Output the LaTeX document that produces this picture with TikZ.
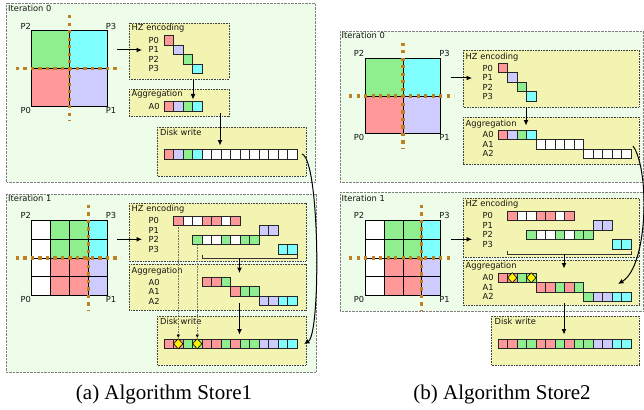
\documentclass[tikz,border=0pt]{standalone}
\usepackage{fontspec}
\setmainfont{Liberation Serif}
\newfontfamily\djv{DejaVu Sans}
\usetikzlibrary{arrows.meta}
\definecolor{pr}{HTML}{FF9999}
\definecolor{pl}{HTML}{CECBFF}
\definecolor{pg}{HTML}{8FEF8F}
\definecolor{pc}{HTML}{80FFFF}
\definecolor{pw}{HTML}{FFFFFF}
\definecolor{dbrown}{HTML}{C07F22}
\definecolor{ogreen}{HTML}{EEFCEA}
\definecolor{obord}{HTML}{808080}
\definecolor{yfill}{HTML}{F4F4B2}
\definecolor{ybord}{HTML}{404040}
\tikzset{
 outer/.style={fill=ogreen, draw=obord, line width=0.7pt, dash pattern=on 0.7pt off 0.7pt},
 ybox/.style={fill=yfill, draw=ybord, line width=0.8pt, dash pattern=on 0.8pt off 0.8pt},
 cellb/.style={draw=black!85, line width=0.7pt},
 gridl/.style={draw=black, line width=0.9pt},
 bdots/.style={draw=dbrown, line width=3.2pt, dash pattern=on 3.2pt off 4.3pt},
 lbl/.style={font=\djv\fontsize{8.3}{9}\selectfont, text=black!92, inner sep=0pt},
 rl/.style={lbl, anchor=west},
 bl/.style={lbl, anchor=base west},
 arr/.style={line width=1pt, -{Latex[length=5.5pt,width=5pt]}},
 darr/.style={draw=black!55, line width=0.6pt, dash pattern=on 0.7pt off 0.9pt, -{Latex[length=3.5pt,width=3.5pt,black]}},
 brk/.style={draw=black!80, line width=0.8pt},
 captxt/.style={font=\fontsize{21}{24}\selectfont, inner sep=0pt, anchor=base},
}
\newcommand\crow[3]{\foreach \cC [count=\cI from 0] in {#3}{\draw[cellb,fill=\cC] ({#1+\cI*9.5},#2) rectangle ++(9.5,9.5);}}
\newcommand\dmd[2]{\draw[fill=yellow,draw=black,line width=0.6pt] ({#1+4.75},{#2-0.3}) -- ++(4.6,5.05) -- ++(-4.6,5.05) -- ++(-4.6,-5.05) -- cycle;}
\newcommand\gridA[3]{%
\begin{scope}[shift={(#1,#2)}]
\fill[pg] (0,0) rectangle (37.75,37.75);
\fill[pc] (37.75,0) rectangle (75.5,37.75);
\fill[pr] (0,37.75) rectangle (37.75,75.5);
\fill[pl] (37.75,37.75) rectangle (75.5,75.5);
\draw[gridl] (0,0) rectangle (75.5,75.5) (37.75,0) -- (37.75,75.5) (0,37.75) -- (75.5,37.75);
\draw[bdots] (37.75,-15.5) -- (37.75,90);
\draw[bdots] (-16,37.75) -- (89,37.75);
\node[lbl] (#3p2) at (-6.1,-4.7) {P2};
\node[lbl] (#3p3) at (79.3,-4.7) {P3};
\node[lbl] (#3p0) at (-6.1,79.6) {P0};
\node[lbl] (#3p1) at (79.3,79.6) {P1};
\end{scope}}
\newcommand\gridB[3]{%
\begin{scope}[shift={(#1,#2)}]
\fill[pw] (0,0) rectangle (18.875,75.5);
\fill[pg] (18.875,0) rectangle (56.625,37.75);
\fill[pc] (56.625,0) rectangle (75.5,37.75);
\fill[pr] (18.875,37.75) rectangle (56.625,75.5);
\fill[pl] (56.625,37.75) rectangle (75.5,75.5);
\foreach \k in {0,1,2,3,4}{\draw[gridl] ({\k*18.875},0) -- ++(0,75.5); \draw[gridl] (0,{\k*18.875}) -- ++(75.5,0);}
\draw[bdots] (56.625,-15.5) -- (56.625,91);
\draw[bdots] (-16,37.75) -- (89,37.75);
\node[lbl] (#3p2) at (-6.1,-4.7) {P2};
\node[lbl] (#3p3) at (79.3,-4.7) {P3};
\node[lbl] (#3p0) at (-6.1,79.6) {P0};
\node[lbl] (#3p1) at (79.3,79.6) {P1};
\end{scope}}
\begin{document}
\begin{tikzpicture}[x=1pt,y=-1pt]
\useasboundingbox (0,0) rectangle (644,409);
% ================= LEFT: Store1 =================
% ---- Iteration 0
\draw[outer] (6.5,3.5) rectangle (315.5,182);
\node[bl] (l0t) at (8,11.7) {Iteration 0};
\draw[ybox] (129,23) rectangle (229,79);
\draw[ybox] (129,89) rectangle (229,116);
\draw[ybox] (157,127) rectangle (306,176);
\gridA{31.8}{30.7}{l0}
\node[bl] (l0hz) at (131.5,30.5) {HZ encoding};
\node[rl] (l0r0) at (148.5,40.25) {P0};
\node[rl] (l0r1) at (148.5,49.75) {P1};
\node[rl] (l0r2) at (148.5,59.25) {P2};
\node[rl] (l0r3) at (148.5,68.75) {P3};
\crow{164}{35.5}{pr}
\crow{173.5}{45}{pl}
\crow{183}{54.5}{pg}
\crow{192.5}{64}{pc}
\node[bl] (l0ag) at (131.5,96.3) {Aggregation};
\node[rl] (l0a0) at (148.5,106.25) {A0};
\crow{164}{101.5}{pr,pl,pg,pc}
\node[bl] (l0dw) at (160,135) {Disk write};
\crow{164}{149.5}{pr,pl,pg,pc,pw,pw,pw,pw,pw,pw,pw,pw,pw,pw}
\coordinate (l0g) at (117,50);
\coordinate (l0h) at (142,50);
\coordinate (l0hb) at (193,79);
\coordinate (l0at) at (193,99.5);
\coordinate (l0ab) at (220,113);
\coordinate (l0dt) at (220,145.5);
\coordinate (l0de) at (302,154);
\draw[arr] (l0g) -- (l0h);
\draw[arr] (l0hb) -- (l0at);
\draw[arr] (l0ab) -- (l0dt);
% ---- Iteration 1
\draw[outer] (6.5,194) rectangle (316,372.5);
\node[bl] (l1t) at (8,201.7) {Iteration 1};
\draw[ybox] (129,203) rectangle (306,261);
\draw[ybox] (129,264) rectangle (306,310);
\draw[ybox] (157,316) rectangle (306,365);
\gridB{31.8}{220.3}{l1}
\node[bl] (l1hz) at (131.5,211.5) {HZ encoding};
\node[rl] (l1r0) at (148.5,220.75) {P0};
\node[rl] (l1r1) at (148.5,230.25) {P1};
\node[rl] (l1r2) at (148.5,239.75) {P2};
\node[rl] (l1r3) at (148.5,249.25) {P3};
\crow{173.5}{216}{pr,pw,pw,pr,pr,pw,pr}
\crow{259}{225.5}{pl,pl}
\crow{192.5}{235}{pg,pw,pw,pg,pw,pg,pg}
\crow{278}{244.5}{pc,pc}
\draw[brk] (202,254.5) -- (202,258) -- (297,258) -- (297,254.5);
\node[bl] (l1ag) at (131.5,273) {Aggregation};
\node[rl] (l1a0) at (148.5,282.05) {A0};
\node[rl] (l1a1) at (148.5,291.55) {A1};
\node[rl] (l1a2) at (148.5,301.05) {A2};
\crow{202}{277.3}{pr,pr,pg}
\crow{230.5}{286.8}{pr,pg,pg}
\crow{259}{296.3}{pl,pl,pc,pc}
\node[bl] (l1dw) at (160,324.3) {Disk write};
\crow{164}{339}{pr,pr,pg,pg,pr,pr,pg,pr,pg,pg,pl,pl,pc,pc}
\dmd{173.5}{339}
\dmd{192.5}{339}
\coordinate (l1g) at (117,239.3);
\coordinate (l1h) at (142,239.3);
\coordinate (l1bm) at (239.5,258);
\coordinate (l1at) at (239.5,273);
\coordinate (l1ab) at (239.5,303);
\coordinate (l1dt) at (239.5,334.5);
\coordinate (l1p0) at (178.25,226.5);
\coordinate (l1p0d) at (178.25,338);
\coordinate (l1p2) at (197.25,245);
\coordinate (l1p2d) at (197.25,338);
\coordinate (l1de) at (304,344);
\draw[arr] (l1g) -- (l1h);
\draw[arr] (l1bm) -- (l1at);
\draw[arr] (l1ab) -- (l1dt);
\draw[darr] (l1p0) -- (l1p0d);
\draw[darr] (l1p2) -- (l1p2d);
\draw[arr] (l0de) .. controls (320,160) and (321,334) .. (l1de);
% ================= RIGHT: Store2 =================
% ---- Iteration 0
\draw[outer] (340,31) rectangle (643,182);
\node[bl] (r0t) at (341.5,38.3) {Iteration 0};
\draw[ybox] (463,50) rectangle (639,107);
\draw[ybox] (463,117) rectangle (639,164);
\gridA{365.2}{58.3}{r0}
\node[bl] (r0hz) at (465.5,60) {HZ encoding};
\node[rl] (r0r0) at (482.5,68.05) {P0};
\node[rl] (r0r1) at (482.5,77.55) {P1};
\node[rl] (r0r2) at (482.5,87.05) {P2};
\node[rl] (r0r3) at (482.5,96.55) {P3};
\crow{498}{63.3}{pr}
\crow{507.5}{72.8}{pl}
\crow{517}{82.3}{pg}
\crow{526.5}{91.8}{pc}
\node[bl] (r0ag) at (465.5,126.5) {Aggregation};
\node[rl] (r0a0) at (482.5,134.75) {A0};
\node[rl] (r0a1) at (482.5,144.25) {A1};
\node[rl] (r0a2) at (482.5,153.75) {A2};
\crow{498}{130}{pr,pl,pg,pc}
\crow{536}{139.5}{pw,pw,pw,pw,pw}
\crow{583.5}{149}{pw,pw,pw,pw,pw}
\coordinate (r0g) at (451,78);
\coordinate (r0h) at (472,78);
\coordinate (r0hb) at (526,107);
\coordinate (r0at) at (526,125.5);
\coordinate (r0ae) at (633,146);
\draw[arr] (r0g) -- (r0h);
\draw[arr] (r0hb) -- (r0at);
% ---- Iteration 1
\draw[outer] (340,192.3) rectangle (643,311);
\node[bl] (r1t) at (341.5,201) {Iteration 1};
\draw[ybox] (463,198.3) rectangle (639,257.3);
\draw[ybox] (463,260) rectangle (639,305);
\draw[ybox] (491,316) rectangle (639,365);
\gridB{365.2}{220.3}{r1}
\node[bl] (r1hz) at (465.5,206) {HZ encoding};
\node[rl] (r1r0) at (482.5,215.75) {P0};
\node[rl] (r1r1) at (482.5,225.25) {P1};
\node[rl] (r1r2) at (482.5,234.75) {P2};
\node[rl] (r1r3) at (482.5,244.25) {P3};
\crow{507.5}{211}{pr,pw,pw,pr,pr,pw,pr}
\crow{593}{220.5}{pl,pl}
\crow{526.5}{230}{pg,pw,pw,pg,pw,pg,pg}
\crow{612}{239.5}{pc,pc}
\draw[brk] (507.5,250.5) -- (507.5,254) -- (631,254) -- (631,250.5);
\node[bl] (r1ag) at (465.5,268) {Aggregation};
\node[rl] (r1a0) at (482.5,277.75) {A0};
\node[rl] (r1a1) at (482.5,287.25) {A1};
\node[rl] (r1a2) at (482.5,296.75) {A2};
\crow{498}{273}{pr,pr,pg,pg}
\dmd{507.5}{273}
\dmd{526.5}{273}
\crow{536}{282.5}{pr,pr,pg,pr,pg}
\crow{583.5}{292}{pg,pl,pl,pc,pc}
\node[bl] (r1dw) at (494.5,324.3) {Disk write};
\crow{498}{339}{pr,pr,pg,pg,pr,pr,pg,pr,pg,pg,pl,pl,pc,pc}
\coordinate (r1g) at (451,239.3);
\coordinate (r1h) at (472,239.3);
\coordinate (r1bm) at (564,254);
\coordinate (r1at) at (564,268.5);
\coordinate (r1ab) at (564,303);
\coordinate (r1dt) at (564,334.5);
\coordinate (r1ae) at (618,284);
\draw[arr] (r1g) -- (r1h);
\draw[arr] (r1bm) -- (r1at);
\draw[arr] (r1ab) -- (r1dt);
\draw[arr] (r0ae) .. controls (650,170) and (648,266) .. (r1ae);
% ================= captions =================
\node[captxt] (capa) at (164,399.5) {(a) Algorithm Store1};
\node[captxt] (capb) at (502,399.5) {(b) Algorithm Store2};
\end{tikzpicture}
\end{document}
